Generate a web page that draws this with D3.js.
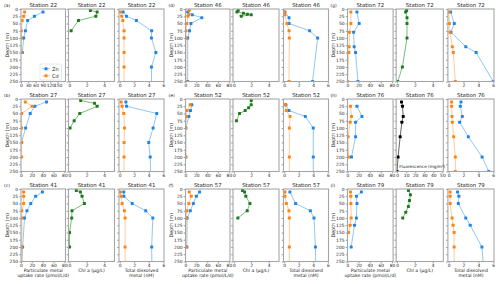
<!DOCTYPE html>
<html>
<head>
<meta charset="utf-8">
<script src="https://cdn.jsdelivr.net/npm/d3@7"></script>
<style>
  body { margin: 0; background: #fff; }
  svg { display: block; font-family: "DejaVu Sans", sans-serif; }
</style>
</head>
<body>
<div id="chart"></div>
<script>
// stations in column order: (a)(b)(c) | (d)(e)(f) | (g)(h)(i)
var stations = ["22", "27", "41", "46", "52", "57", "72", "76", "79"];
var letters = ["a", "b", "c", "d", "e", "f", "g", "h", "i"];
var depthTicks = [0, 25, 50, 75, 100, 125, 150, 175, 200, 225, 250];
var uptakeTicks = [0, 20, 40, 60, 80];
var uptakeTicks22 = [0, 30, 60, 90, 120, 150];
var chlTicks = [0, 2, 4];
var fluorTicks = [0, 10, 20, 30, 40, 50];
var dissTicks = [0, 2, 4, 6];

// [depth (m), value] per station, same order as stations
var uptakeZn = [
  [[10, 90], [25, 55], [40, 27], [75, 18], [100, 11], [150, 5.5]],
  [[10, 47], [25, 25.5], [50, 17], [100, 8.5], [150, 1.2]],
  [[10, 39.5], [25, 27], [50, 18], [75, 11], [100, 6.5], [200, 3], [300, 1]],
  [[10, 4], [20, 12.5], [30, 30], [50, 10], [75, 7.5], [100, 4], [250, 4]],
  [[20, 11.7], [40, 9.2], [60, 6.2], [100, 0.5], [200, 0.5]],
  [[10, 26], [25, 20], [50, 14.4], [75, 8.8], [100, 3], [200, 2.5]],
  [[10, 17], [50, 21], [80, 11], [130, 12], [150, 14.5], [250, 18.7]],
  [[25, 17], [60, 26], [80, 14.5], [130, 14.5], [200, 7.2]],
  [[10, 25], [25, 16], [50, 17], [100, 16], [125, 12.6], [200, 6.6]]
];
var uptakeCd = [
  [[10, 15], [25, 11], [40, 5], [75, 1.5], [100, 1.5], [150, 1.5]],
  [[10, 7.9], [25, 20.5], [50, 1.2], [100, 1.2], [150, 1.2], [200, 1.2]],
  [[10, 4.9], [25, 4.9], [50, 4.9], [75, 1.5], [100, 1.5], [200, 1.5], [300, 1.5]],
  [[5, 7], [20, 6], [25, 4.5], [50, 2.5], [75, 1], [100, 1], [250, 1]],
  [[20, 8.6], [40, 3], [60, 1.8], [100, 0.5], [200, 0.5]],
  [[10, 6.9], [25, 10.6], [50, 6.2], [75, 2.5], [100, 1.2], [200, 1.2]],
  [[10, 6], [50, 6], [80, 3.6], [130, 3], [150, 2.4], [250, 0.3]],
  [[25, 5.4], [60, 7.2], [80, 4.8], [130, 1.2], [200, 1.8]],
  [[10, 5.4], [25, 6], [50, 6], [100, 6.6], [125, 4.8], [150, 1.8]]
];
// Chl a (ug/L); station 76 has fluorescence instead (see below)
var chlA = [
  [[5, 2.42], [10, 3.2], [25, 3.05], [40, 1.05], [75, 0.2]],
  [[5, 1.3], [15, 2.9], [25, 3.2], [50, 1.2], [75, 0.55], [100, 0.08]],
  [[5, 0.8], [10, 1.27], [25, 1.46], [50, 1.73], [75, 0.3], [100, 0.27], [150, 0.02], [200, 0.02]],
  [[5, 0.5], [10, 0.35], [15, 1.1], [18, 1.55], [20, 2.0], [25, 0.85]],
  [[5, 2.0], [20, 2.0], [30, 1.7], [40, 1.3], [50, 0.65], [75, 0.3]],
  [[5, 1.0], [10, 1.23], [25, 1.38], [50, 1.85], [75, 1.54], [100, 0.46]],
  [[5, 1.08], [10, 0.97], [30, 1.12], [50, 1.12], [100, 1.12], [200, 0.6], [250, 0.07]],
  [],
  [[5, 1.28], [20, 1.5], [40, 1.4], [60, 1.28], [80, 0.98], [100, 0.64]]
];
var fluor76 = [[10, 4.9], [25, 6], [60, 6.8], [80, 5.3], [130, 3.4], [200, 1.1], [250, 0]];
var dissZn = [
  [[10, 0.47], [25, 0.93], [40, 2.3], [75, 4.4], [100, 4.37], [150, 4.98], [200, 4.37], [300, 4.4]],
  [[10, 0.85], [25, 0.94], [50, 5.1], [100, 4.6], [150, 4.0], [200, 4.2], [300, 4.3]],
  [[10, 0.56], [25, 0.56], [50, 1.72], [75, 3.58], [100, 4.56], [200, 4.4], [300, 4.45]],
  [[10, 0.1], [30, 0.66], [50, 0.66], [75, 3.5], [100, 4.6], [250, 3.9]],
  [[20, 0.23], [40, 0.65], [60, 2.9], [100, 4.0], [200, 4.0], [300, 4.0]],
  [[10, 0.78], [50, 1.57], [75, 3.6], [100, 4.1], [200, 4.3], [300, 4.35]],
  [[10, 0.27], [50, 0.76], [80, 0.31], [130, 2.3], [150, 3.7], [250, 6.0]],
  [[10, 1.66], [25, 1.57], [60, 1.84], [80, 1.48], [130, 2.65], [200, 4.5], [250, 5.4]],
  [[10, 1.2], [25, 1.38], [50, 1.3], [100, 2.3], [125, 2.9], [200, 4.47], [300, 4.8]]
];
var dissCd = [
  [[10, 0.1], [25, 0.28], [40, 0.42], [75, 0.6], [100, 0.6], [150, 0.6], [200, 0.6], [300, 0.6]],
  [[10, 0.2], [25, 0.33], [50, 0.56], [100, 0.66], [150, 0.6], [200, 0.6], [300, 0.6]],
  [[10, 0.1], [25, 0.2], [50, 0.33], [75, 0.65], [100, 0.74], [200, 0.74], [300, 0.74]],
  [[10, 0.02], [20, 0.1], [50, 0.38], [75, 0.66], [100, 0.7], [250, 0.66]],
  [[20, 0.14], [40, 0.28], [60, 0.8], [100, 0.7], [200, 0.7], [300, 0.7]],
  [[10, 0.1], [25, 0.1], [50, 0.3], [75, 0.65], [100, 0.7], [200, 0.7], [300, 0.7]],
  [[10, 0.04], [50, 0.1], [80, 0.18], [130, 0.5], [150, 0.63], [250, 0.9]],
  [[10, 0.4], [25, 0.4], [60, 0.45], [80, 0.5], [130, 0.67], [200, 0.9], [250, 0.9]],
  [[10, 0.2], [25, 0.2], [50, 0.2], [100, 0.46], [125, 0.6], [150, 0.74], [200, 0.74], [300, 0.74]]
];

var W = 500, H = 284;
var groupX = [[21, 164], [185.5, 328.5], [347.5, 494]];
var rowTop = [9, 99, 189];
var panelH = 72.5;
var frac = [[0, 44.5 / 143], [47.5 / 143, 93.5 / 143], [98 / 143, 1]];

var col = {
  zn: "#1f86e6", znLine: "#86c0f2",
  cd: "#ff8412", cdLine: "#ffc48c",
  chl: "#1d7a1d", chlLine: "#6cb36c",
  fl: "#000", flLine: "#555"
};
var spine = "#a6a6a6";

var svg = d3.select("#chart").append("svg").attr("width", W).attr("height", H);
var clipN = 0;

function drawPanel(x0, x1, y0, xDomain, xTicks, series, showY, station) {
  var x = d3.scaleLinear().domain(xDomain).range([x0, x1]);
  var y = d3.scaleLinear().domain([0, 250]).range([y0, y0 + panelH]);
  var g = svg.append("g");

  var ya = g.append("g").attr("transform", "translate(" + x0 + ",0)")
    .call(d3.axisLeft(y).tickValues(depthTicks).tickSize(1.8).tickPadding(1.2)
      .tickFormat(showY ? d3.format("d") : ""));
  var xa = g.append("g").attr("transform", "translate(0," + (y0 + panelH) + ")")
    .call(d3.axisBottom(x).tickValues(xTicks).tickSize(1.8).tickPadding(0.8)
      .tickFormat(d3.format("d")));
  [ya, xa].forEach(function(a) {
    a.select(".domain").remove();
    a.selectAll("line").attr("stroke", "#555").attr("stroke-width", 0.6);
    a.selectAll("text").attr("font-size", 4.4).attr("fill", "#222")
      .attr("font-family", "DejaVu Sans, sans-serif");
  });

  var id = "clip" + (clipN++);
  g.append("clipPath").attr("id", id).append("rect")
    .attr("x", x0).attr("y", y0).attr("width", x1 - x0).attr("height", panelH);
  var plot = g.append("g").attr("clip-path", "url(#" + id + ")");

  var line = d3.line().x(function(d) { return x(d[1]); }).y(function(d) { return y(d[0]); });
  series.forEach(function(s) {
    plot.append("path").datum(s.data).attr("d", line)
      .attr("fill", "none").attr("stroke", s.line).attr("stroke-width", 0.9);
  });
  series.forEach(function(s) {
    plot.selectAll(null).data(s.data).enter().append("rect")
      .attr("x", function(d) { return x(d[1]) - 1.5; })
      .attr("y", function(d) { return y(d[0]) - 1.5; })
      .attr("width", 3).attr("height", 3).attr("rx", 0.6)
      .attr("fill", s.color);
  });

  g.append("rect").attr("x", x0).attr("y", y0).attr("width", x1 - x0).attr("height", panelH)
    .attr("fill", "none").attr("stroke", spine).attr("stroke-width", 1.1);

  g.append("text").attr("x", (x0 + x1) / 2).attr("y", y0 - 2.3)
    .attr("text-anchor", "middle").attr("font-size", 5.4).attr("fill", "#222")
    .text("Station " + station);
  return g;
}

stations.forEach(function(st, i) {
  var c = Math.floor(i / 3), r = i % 3;
  var gx0 = groupX[c][0], gw = groupX[c][1] - groupX[c][0];
  var px = frac.map(function(f) { return [gx0 + f[0] * gw, gx0 + f[1] * gw]; });
  var y0 = rowTop[r];

  // panel 1: particulate uptake
  drawPanel(px[0][0], px[0][1], y0,
    st === "22" ? [0, 182] : [0, 82], st === "22" ? uptakeTicks22 : uptakeTicks,
    [{ data: uptakeZn[i], color: col.zn, line: col.znLine },
     { data: uptakeCd[i], color: col.cd, line: col.cdLine }],
    true, st);

  // panel 2: chl a or fluorescence
  if (st === "76") {
    var p2 = drawPanel(px[1][0], px[1][1], y0, [-1, 51], fluorTicks,
      [{ data: fluor76, color: col.fl, line: col.flLine }], false, st);
    p2.append("text").attr("x", px[1][0] + 3).attr("y", y0 + panelH - 4)
      .attr("font-size", 4.2).attr("fill", "#222").text("Fluorescence (mg/m\u00b3)");
  } else {
    drawPanel(px[1][0], px[1][1], y0, [-0.1, 5.2], chlTicks,
      [{ data: chlA[i], color: col.chl, line: col.chlLine }], false, st);
  }

  // panel 3: total dissolved
  drawPanel(px[2][0], px[2][1], y0, [-0.1, 6.1], dissTicks,
    [{ data: dissZn[i], color: col.zn, line: col.znLine },
     { data: dissCd[i], color: col.cd, line: col.cdLine }],
    false, st);

  svg.append("text").attr("x", gx0 - 17).attr("y", y0 - 2.3)
    .attr("font-size", 4.4).attr("fill", "#222").text("(" + letters[i] + ")");
  svg.append("text")
    .attr("transform", "translate(" + (gx0 - 12.5) + "," + (y0 + panelH / 2) + ") rotate(-90)")
    .attr("text-anchor", "middle").attr("font-size", 4.8).attr("fill", "#222")
    .text("Depth (m)");

  // bottom row axis titles
  if (r === 2) {
    var labels = [["Particulate metal", "uptake rate (pmol/L/d)"], ["Chl a (\u00b5g/L)"],
                  ["Total dissolved", "metal (nM)"]];
    labels.forEach(function(lines, k) {
      var cx = (px[k][0] + px[k][1]) / 2;
      var t = svg.append("text").attr("x", cx).attr("y", y0 + panelH + 10.3)
        .attr("text-anchor", "middle").attr("font-size", 4.6).attr("fill", "#222");
      lines.forEach(function(s, j) {
        t.append("tspan").attr("x", cx).attr("dy", j ? 4.9 : 0).text(s);
      });
    });
  }

  // legend in (a)
  if (st === "22") {
    var lx = px[0][0] + 19, ly = y0 + 55;
    var lg = svg.append("g");
    lg.append("rect").attr("x", lx).attr("y", ly).attr("width", 21.5).attr("height", 16)
      .attr("rx", 1).attr("fill", "#fff").attr("stroke", "#ccc").attr("stroke-width", 0.5);
    [["Zn", col.zn, col.znLine], ["Cd", col.cd, col.cdLine]].forEach(function(e, k) {
      var yy = ly + 4.8 + k * 7;
      lg.append("line").attr("x1", lx + 2).attr("x2", lx + 10).attr("y1", yy).attr("y2", yy)
        .attr("stroke", e[2]).attr("stroke-width", 0.9);
      lg.append("rect").attr("x", lx + 4.5).attr("y", yy - 1.5).attr("width", 3).attr("height", 3)
        .attr("rx", 0.6).attr("fill", e[1]);
      lg.append("text").attr("x", lx + 12).attr("y", yy + 1.8).attr("font-size", 5)
        .attr("fill", "#222").text(e[0]);
    });
  }
});
</script>
</body>
</html>
